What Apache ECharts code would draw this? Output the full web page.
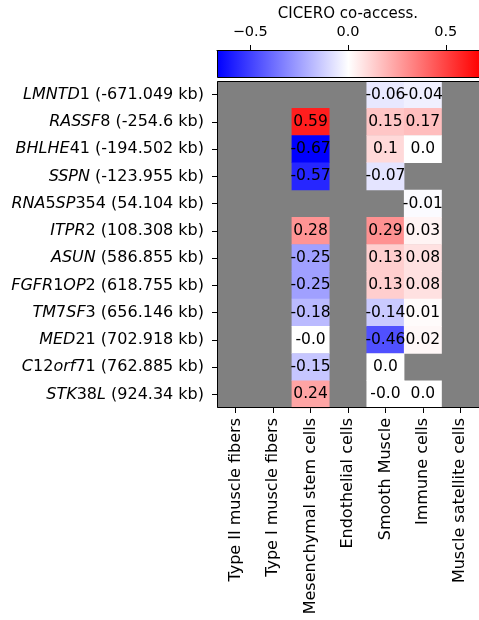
<!DOCTYPE html>
<html>
<head>
<meta charset="utf-8">
<script src="https://cdn.jsdelivr.net/npm/echarts@6/dist/echarts.min.js"></script>
<style>
  html, body { margin: 0; padding: 0; background: #ffffff; }
  #chart { width: 479px; height: 620px; }
</style>
</head>
<body>
<div id="chart"></div>
<script>
// Cell types along the x axis
const cellTypes = [
  'Type II muscle fibers', 'Type I muscle fibers', 'Mesenchymal stem cells',
  'Endothelial cells', 'Smooth Muscle', 'Immune cells', 'Muscle satellite cells'
];

// Genes (rows) and their distance to the peak, in kb
const genes = [
  'LMNTD1', 'RASSF8', 'BHLHE41', 'SSPN', 'RNA5SP354', 'ITPR2',
  'ASUN', 'FGFR1OP2', 'TM7SF3', 'MED21', 'C12orf71', 'STK38L'
];
const distancesKb = [
  '-671.049', '-254.6', '-194.502', '-123.955', '54.104', '108.308',
  '586.855', '618.755', '656.146', '702.918', '762.885', '924.34'
];

// Co-accessibility per cell type (null = no value)
const typeIIFibers   = [null, null, null, null, null, null, null, null, null, null, null, null];
const typeIFibers    = [null, null, null, null, null, null, null, null, null, null, null, null];
const mesenchymal    = [null, 0.59, -0.67, -0.57, null, 0.28, -0.25, -0.25, -0.18, -0, -0.15, 0.24];
const endothelial    = [null, null, null, null, null, null, null, null, null, null, null, null];
const smoothMuscle   = [-0.06, 0.15, 0.1, -0.07, null, 0.29, 0.13, 0.13, -0.14, -0.46, 0.0, -0];
const immune         = [-0.04, 0.17, 0.0, null, -0.01, 0.03, 0.08, 0.08, 0.01, 0.02, null, 0.0];
const satellite      = [null, null, null, null, null, null, null, null, null, null, null, null];

// Colour bar ticks and range
const colorbarTicks = [-0.5, 0, 0.5];
const colorMin = -0.67;
const colorMax = 0.67;

const columns = [typeIIFibers, typeIFibers, mesenchymal, endothelial, smoothMuscle, immune, satellite];

const heatData = [];
columns.forEach((col, ci) => {
  col.forEach((v, ri) => {
    if (v !== null) heatData.push([ci, ri, v]);
  });
});

function fmtValue(v) {
  const neg = v < 0 || Object.is(v, -0);
  let s = String(Math.abs(v));
  if (s.indexOf('.') < 0) s += '.0';
  return (neg ? '-' : '') + s;
}

// Gene symbol: letters italic, digits upright
function geneLabel(name, idx) {
  const runs = name.match(/[0-9]+|[^0-9]+/g) || [];
  let out = '';
  runs.forEach(r => {
    out += /^[0-9]/.test(r) ? '{n|' + r + '}' : '{i|' + r + '}';
  });
  return out + '{n| (' + distancesKb[idx] + ' kb)}';
}

const FONT = 'DejaVu Sans';
const AXIS_FS = 16;
const chart = echarts.init(document.getElementById('chart'));

chart.setOption({
  animation: false,
  backgroundColor: '#ffffff',
  textStyle: { fontFamily: FONT, color: '#000' },
  grid: [
    { left: 217, top: 81, width: 270, height: 327, show: true, backgroundColor: '#808080', borderWidth: 0 },
    { left: 217, top: 50, width: 270, height: 28, show: false }
  ],
  visualMap: {
    show: false,
    type: 'continuous',
    min: colorMin,
    max: colorMax,
    seriesIndex: 0,
    dimension: 2,
    inRange: { color: ['#0000ff', '#ffffff', '#ff0000'] }
  },
  xAxis: [
    {
      type: 'category',
      gridIndex: 0,
      data: cellTypes,
      position: 'bottom',
      axisLine: { show: false },
      axisTick: { show: true, alignWithLabel: true, length: 5, lineStyle: { color: '#000' } },
      axisLabel: { interval: 0, rotate: 90, margin: 10, color: '#000', fontSize: AXIS_FS, fontFamily: FONT },
      splitLine: { show: false }
    },
    {
      type: 'value',
      gridIndex: 1,
      min: colorMin,
      max: colorMax,
      position: 'top',
      name: 'CICERO co-access.',
      nameLocation: 'middle',
      nameGap: 28,
      nameTextStyle: { fontSize: 15, color: '#000', fontFamily: FONT },
      axisLine: { show: true, onZero: false, lineStyle: { color: '#000', width: 1 } },
      axisTick: { show: true, inside: false, length: 5, customValues: colorbarTicks, lineStyle: { color: '#000', width: 1 } },
      axisLabel: {
        customValues: colorbarTicks,
        margin: 10,
        color: '#000',
        fontSize: 14.5,
        fontFamily: FONT,
        formatter: v => (v < 0 ? '\u2212' : '') + Math.abs(v).toFixed(1)
      },
      splitLine: { show: false },
      z: 8
    }
  ],
  yAxis: [
    {
      type: 'category',
      gridIndex: 0,
      data: genes,
      inverse: true,
      axisLine: { show: false },
      axisTick: { show: true, alignWithLabel: true, length: 5, lineStyle: { color: '#000' } },
      axisLabel: {
        interval: 0,
        margin: 13,
        color: '#000',
        formatter: (name, idx) => geneLabel(name, idx),
        rich: {
          i: { fontStyle: 'italic', fontSize: AXIS_FS, fontFamily: FONT, color: '#000' },
          n: { fontStyle: 'normal', fontSize: AXIS_FS, fontFamily: FONT, color: '#000' }
        }
      },
      splitLine: { show: false }
    },
    {
      type: 'value',
      gridIndex: 1,
      min: 0,
      max: 1,
      show: false
    }
  ],
  series: [
    {
      type: 'heatmap',
      xAxisIndex: 0,
      yAxisIndex: 0,
      data: heatData,
      itemStyle: { borderWidth: 0 },
      label: {
        show: true,
        color: '#000',
        fontSize: 15.5,
        fontFamily: FONT,
        formatter: p => fmtValue(p.value[2])
      },
      emphasis: { disabled: true },
      z: 2
    },
    {
      // frame around the heatmap
      type: 'custom',
      xAxisIndex: 0,
      yAxisIndex: 0,
      silent: true,
      data: [[0, 0]],
      z: 10,
      renderItem: (params) => {
        const cs = params.coordSys;
        return {
          type: 'rect',
          shape: { x: cs.x + 0.5, y: cs.y + 0.5, width: cs.width, height: cs.height - 1 },
          style: { fill: 'none', stroke: '#000', lineWidth: 1 }
        };
      }
    },
    {
      // colour bar
      type: 'custom',
      xAxisIndex: 1,
      yAxisIndex: 1,
      silent: true,
      data: [[colorMin, colorMax]],
      z: 5,
      renderItem: (params, api) => {
        const p0 = api.coord([api.value(0), 1]);
        const p1 = api.coord([api.value(1), 0]);
        return {
          type: 'rect',
          shape: { x: p0[0] + 0.5, y: p0[1] + 0.5, width: p1[0] - p0[0], height: p1[1] - p0[1] - 1 },
          style: {
            fill: new echarts.graphic.LinearGradient(0, 0, 1, 0, [
              { offset: 0, color: '#0000ff' },
              { offset: 0.5, color: '#ffffff' },
              { offset: 1, color: '#ff0000' }
            ]),
            stroke: '#000',
            lineWidth: 1
          }
        };
      }
    }
  ]
});
</script>
</body>
</html>
